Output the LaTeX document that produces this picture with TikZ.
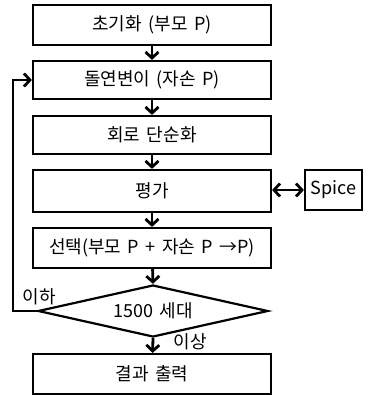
\documentclass[tikz,border=0pt]{standalone}
\usepackage{fontspec}
\setmainfont[WordSpace=1.6]{Noto Sans CJK KR}
\usetikzlibrary{arrows.meta,shapes.geometric}
\begin{document}
\begin{tikzpicture}[x=1pt,y=-1pt,
  box/.style={draw,line width=2.2pt,minimum width=238pt,minimum height=40pt,inner sep=0pt,font=\fontsize{18}{20}\selectfont},
  arr/.style={line width=2.8pt,-{Straight Barb[length=6pt,width=13pt,line width=2.8pt]}},
  lbl/.style={font=\fontsize{18}{20}\selectfont,inner sep=0pt}]
\useasboundingbox (0,0) rectangle (370,395);
\node[box] (b1) at (152,25) {초기화 (부모 P)};
\node[box,minimum height=38pt] (b2) at (152,80) {돌연변이 (자손 P)};
\node[box,minimum height=38pt] (b3) at (152,135) {회로 단순화};
\node[box,minimum height=42pt] (b4) at (152,191) {평가};
\node[box,minimum width=57pt] (sp) at (333.5,190) {Spice};
\node[box] (b5) at (152,248) {선택(부모 P + 자손 P →P)};
\node[draw,line width=2.2pt,diamond,aspect=4.4,inner sep=0pt,minimum width=230pt,minimum height=52pt,font=\fontsize{18}{20}\selectfont] (d) at (153,311) {1500 세대};
\node[box] (b6) at (152,374) {결과 출력};
\coordinate (c1) at (13,311);
\coordinate (c2) at (13,80);
\draw[arr] (b1) -- (b2);
\draw[arr] (b2) -- (b3);
\draw[arr] (b3) -- (b4);
\draw[arr] (b4) -- (b5);
\draw[arr] (b5) -- (d.north);
\draw[arr] (d.south) -- (b6);
\draw[line width=2.8pt,{Straight Barb[length=6pt,width=13pt,line width=2.8pt]}-{Straight Barb[length=6pt,width=13pt,line width=2.8pt]}] (b4.east |- sp) -- (sp.west);
\draw[arr] (d.west) -- (c1) -- (c2) -- (b2.west);
\node[lbl] (l1) at (39,297) {이하};
\node[lbl] (l2) at (190,342) {이상};
\end{tikzpicture}
\end{document}
